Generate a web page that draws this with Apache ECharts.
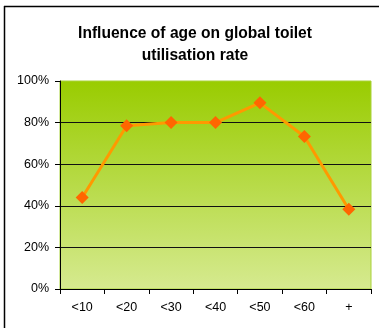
<!DOCTYPE html>
<html>
<head>
<meta charset="utf-8">
<script src="https://cdn.jsdelivr.net/npm/echarts@6/dist/echarts.min.js"></script>
<style>
html,body{margin:0;padding:0;background:#fff;}
#main{width:379px;height:328px;}
</style>
</head>
<body>
<div id="main"></div>
<script>
// age groups and utilisation rate (%)
var ageGroups = ['<10', '<20', '<30', '<40', '<50', '<60', '+'];
var utilisation = [44, 78.5, 80, 80, 89.5, 73.3, 38.3];
var yTicks = [0, 20, 40, 60, 80, 100];

var chart = echarts.init(document.getElementById('main'), null, {renderer: 'canvas'});
var option = {
	animation: false,
	backgroundColor: '#fff',
	title: {
		text: 'Influence of age on global toilet\nutilisation rate',
		left: 190,
		textAlign: 'center',
		top: 18,
		textStyle: {
			fontFamily: 'Liberation Sans',
			fontSize: 15.6,
			fontWeight: 'bold',
			color: '#000',
			lineHeight: 22
		}
	},
	graphic: [
		{type: 'line', shape: {x1: 4.5, y1: 6, x2: 4.5, y2: 328}, style: {stroke: '#000', lineWidth: 1.5}},
		{type: 'line', shape: {x1: 4, y1: 6.5, x2: 379, y2: 6.5}, style: {stroke: '#000', lineWidth: 1.5}}
	],
	grid: {
		left: 60, right: 8, top: 81, bottom: 39,
		show: true,
		borderColor: '#a9d23a',
		borderWidth: 1,
		backgroundColor: {
			type: 'linear', x: 0, y: 0, x2: 0, y2: 1,
			colorStops: [
				{offset: 0, color: '#99cc00'},
				{offset: 1, color: '#d6ea90'}
			]
		}
	},
	xAxis: {
		type: 'category',
		data: ageGroups,
		boundaryGap: true,
		axisLine: {lineStyle: {color: '#000', width: 1}},
		axisTick: {show: true, length: 5, lineStyle: {color: '#000'}},
		axisLabel: {color: '#000', fontFamily: 'Liberation Sans', fontSize: 12.5, margin: 12}
	},
	yAxis: {
		type: 'value',
		min: 0, max: 100, interval: 20,
		axisLine: {show: true, lineStyle: {color: '#000', width: 1}},
		axisTick: {show: true, length: 5, lineStyle: {color: '#000'}},
		axisLabel: {
			color: '#000', fontFamily: 'Liberation Sans', fontSize: 12.5, margin: 11,
			formatter: function (v) { return yTicks.indexOf(v) >= 0 ? v + '%' : ''; }
		},
		splitLine: {
			show: true,
			lineStyle: {color: ['transparent', '#111', '#111', '#111', '#111', 'transparent'], width: 1}
		}
	},
	series: [
		{
			type: 'line',
			data: utilisation,
			symbol: 'diamond',
			symbolSize: 13,
			lineStyle: {color: '#ff9900', width: 3},
			itemStyle: {color: '#ff6600'}
		}
	]
};
chart.setOption(option);
</script>
</body>
</html>
